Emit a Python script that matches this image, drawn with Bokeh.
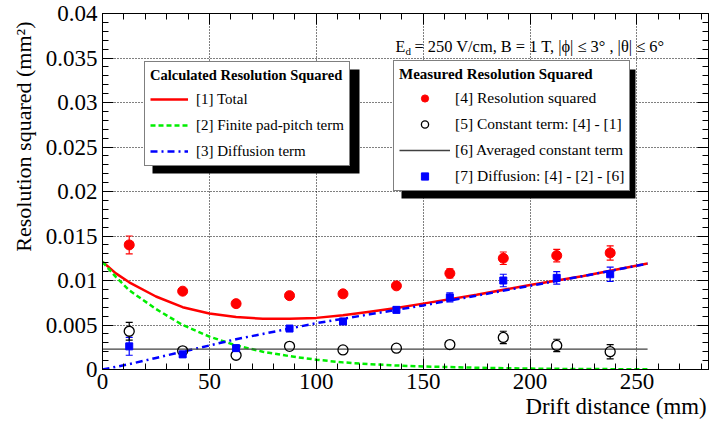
import numpy as np
from bokeh.plotting import figure
from bokeh.models import (Range1d, FixedTicker, LinearAxis, Legend, LegendItem, Label, Title,
                          BoxAnnotation, Whisker, TeeHead, ColumnDataSource, CustomJSTickFormatter)
from bokeh.embed import file_html
from bokeh.resources import INLINE

# ---------------- data ----------------
x_pts = [12.5, 37.5, 62.5, 87.5, 112.5, 137.5, 162.5, 187.5, 212.5, 237.5]
res_sq = [0.0140, 0.0088, 0.0074, 0.0083, 0.0085, 0.0094, 0.0108, 0.0125, 0.0128, 0.0131]
const_term = [0.0043, 0.0021, 0.0016, 0.0026, 0.0022, 0.0024, 0.0028, 0.0036, 0.0027, 0.0020]
diff_meas = [0.0026, 0.0017, 0.0024, 0.0046, 0.0054, 0.0067, 0.0081, 0.0100, 0.0103, 0.0107]
err = [0.0010, 0.0003, 0.0003, 0.0003, 0.0003, 0.0003, 0.0005, 0.0007, 0.0007, 0.0008]

avg_x = [0, 255]
avg_const = [0.0023, 0.0023]

curve_x = [0, 6.25, 12.5, 25, 37.5, 50, 62.5, 75, 87.5, 100, 112.5, 125, 137.5, 150, 175, 200, 225, 255]
total = [0.0121, 0.0108, 0.0098, 0.0082, 0.0070, 0.0063, 0.0059, 0.0057, 0.0057, 0.0058, 0.0061,
         0.0065, 0.0069, 0.0074, 0.0084, 0.0095, 0.0105, 0.0119]
pad_term = [0.0121, 0.0104, 0.0089, 0.0068, 0.0050, 0.0037, 0.0027, 0.0020, 0.0015, 0.0011, 0.0008,
            0.0006, 0.00045, 0.00034, 0.0002, 0.0001, 0.00005, 0.00003]
diffusion = [0.0, 0.0003, 0.0006, 0.0013, 0.0020, 0.0027, 0.0034, 0.0040, 0.0046, 0.0052, 0.0057,
             0.0062, 0.0067, 0.0072, 0.0083, 0.0094, 0.0105, 0.0119]

x_ticks = [0, 50, 100, 150, 200, 250]
x_minor = [10 * i for i in range(0, 29)]
y_ticks = [0.0, 0.005, 0.01, 0.015, 0.02, 0.025, 0.03, 0.035, 0.04]
y_tick_labels = ["0", "0.005", "0.01", "0.015", "0.02", "0.025", "0.03", "0.035", "0.04"]
y_minor = [0.001 * i for i in range(0, 41)]

# ---------------- layout ----------------
X0, X1 = 0.0, 283.5
Y0, Y1 = 0.0, 0.04
W, H = 709, 424
FL, FR, FT, FB = 102, 708, 13, 369   # frame edges in page pixels


def px2x(px):
    return X0 + (px - FL) * (X1 - X0) / (FR - FL)


def py2y(py):
    return Y0 + (FB - py) * (Y1 - Y0) / (FB - FT)


SERIF = "Liberation Serif"

p = figure(width=W, height=H, x_range=Range1d(X0, X1), y_range=Range1d(Y0, Y1),
           output_backend="svg", toolbar_location=None,
           min_border_left=FL, min_border_right=W - FR,
           min_border_top=FT, min_border_bottom=H - FB)
p.background_fill_color = "white"
p.border_fill_color = "white"
p.outline_line_color = "black"
p.outline_line_width = 1

xticker = FixedTicker(ticks=x_ticks, minor_ticks=x_minor)
yticker = FixedTicker(ticks=y_ticks, minor_ticks=y_minor)


def style_axis(ax, ticker, labels=True):
    ax.ticker = ticker
    ax.axis_line_color = "black"
    ax.major_tick_line_color = "black"
    ax.minor_tick_line_color = "black"
    ax.major_tick_in = 11
    ax.major_tick_out = 0
    ax.minor_tick_in = 6
    ax.minor_tick_out = 0
    if labels:
        ax.major_label_text_font = SERIF
        ax.major_label_text_font_size = "23px"
        ax.major_label_text_color = "black"
        ax.major_label_standoff = 4
    else:
        ax.formatter = CustomJSTickFormatter(code="return ''")
        ax.major_label_text_color = None
        ax.major_label_standoff = 0


style_axis(p.xaxis[0], xticker)
style_axis(p.yaxis[0], yticker)
p.yaxis[0].major_label_standoff = 5
p.yaxis[0].major_label_overrides = dict(zip(y_ticks, y_tick_labels))

top_ax = LinearAxis()
style_axis(top_ax, xticker, labels=False)
right_ax = LinearAxis()
style_axis(right_ax, yticker, labels=False)
p.add_layout(top_ax, "above")
p.add_layout(right_ax, "right")

# axis titles (ROOT style: at the end of the axis)
p.add_layout(Title(text="Drift distance (mm)", align="right", text_font=SERIF, text_font_size="22.8px",
                   text_font_style="normal", text_color="black", standoff=0, offset=2), "below")
p.add_layout(Title(text="Resolution squared (mm\u00b2)", align="right", text_font=SERIF,
                   text_font_size="22px", text_font_style="normal", text_color="black",
                   standoff=13, offset=8), "left")

for g, tk in ((p.xgrid[0], xticker), (p.ygrid[0], yticker)):
    g.ticker = tk
    g.grid_line_color = "black"
    g.grid_line_dash = "1 2"
    g.grid_line_width = 1

# ---------------- curves ----------------
r_total = p.line(curve_x, total, line_color="#ff0000", line_width=2.5)
r_pad = p.line(curve_x, pad_term, line_color="#00ee00", line_width=2.5, line_dash="5 3")
r_diff = p.line(curve_x, diffusion, line_color="#0000ff", line_width=2.5, line_dash="7 4 2 4")
r_avg = p.line(avg_x, avg_const, line_color="#404040", line_width=1.3)

# ---------------- error bars ----------------
r_open = 5 * (Y1 - Y0) / (FB - FT)   # open marker radius in data units


def whisk(xs, lo, hi, color, up=True, down=True):
    src = ColumnDataSource(dict(x=xs, lo=lo, hi=hi))
    w = Whisker(source=src, base="x", lower="lo", upper="hi", line_color=color, line_width=1.2,
                upper_head=TeeHead(size=7, line_color=color, line_width=1.2) if up else None,
                lower_head=TeeHead(size=7, line_color=color, line_width=1.2) if down else None)
    p.add_layout(w)


whisk(x_pts, [v - e for v, e in zip(res_sq, err)], [v + e for v, e in zip(res_sq, err)], "#ff0000")
whisk(x_pts, [v - e for v, e in zip(diff_meas, err)], [v + e for v, e in zip(diff_meas, err)], "#0000ff")
big = [i for i, e in enumerate(err) if e > r_open]
bx = [x_pts[i] for i in big]
whisk(bx, [const_term[i] + r_open for i in big], [const_term[i] + err[i] for i in big], "black", up=True, down=False)
whisk(bx, [const_term[i] - err[i] for i in big], [const_term[i] - r_open for i in big], "black", up=False, down=True)

# ---------------- markers ----------------
r_res = p.scatter(x_pts, res_sq, marker="circle", size=10, fill_color="#ff0000", line_color="#ff0000")
r_const = p.scatter(x_pts, const_term, marker="circle", size=10, fill_color=None,
                    line_color="black", line_width=1.3)
r_dm = p.scatter(x_pts, diff_meas, marker="square", size=7, fill_color="#0000ff", line_color="#0000ff")

# ---------------- legends with shadows ----------------
p.add_layout(BoxAnnotation(left=px2x(152), right=px2x(359), top=py2y(69), bottom=py2y(173),
                           fill_color="black", fill_alpha=1, line_color=None))
p.add_layout(BoxAnnotation(left=px2x(401), right=px2x(635), top=py2y(69), bottom=py2y(198),
                           fill_color="black", fill_alpha=1, line_color=None))


def make_legend(items, title, loc, gw, standoff, lsize, tsize):
    return Legend(items=items, title=title, location=loc, orientation="vertical",
                  border_line_color="black", border_line_width=1,
                  background_fill_color="white", background_fill_alpha=1,
                  padding=5, spacing=8, margin=0, glyph_width=gw, glyph_height=18,
                  label_height=18, label_standoff=standoff,
                  label_text_font=SERIF, label_text_font_size=lsize, label_text_color="black",
                  title_text_font=SERIF, title_text_font_size=tsize, title_text_color="black",
                  title_text_font_style="bold", title_standoff=6)


leg1 = make_legend([LegendItem(label="[1] Total", renderers=[r_total]),
                    LegendItem(label="[2] Finite pad-pitch term", renderers=[r_pad]),
                    LegendItem(label="[3] Diffusion term", renderers=[r_diff])],
                   "Calculated Resolution Squared", (144 - FL, FB - 166), 38, 8, "15px", "14.5px")
leg2 = make_legend([LegendItem(label="[4] Resolution squared", renderers=[r_res]),
                    LegendItem(label="[5] Constant term: [4] - [1]", renderers=[r_const]),
                    LegendItem(label="[6] Averaged constant term", renderers=[r_avg]),
                    LegendItem(label="[7] Diffusion: [4] - [2] - [6]", renderers=[r_dm])],
                   "Measured Resolution Squared", (393 - FL, FB - 191), 51, 5, "15.5px", "15px")
p.add_layout(leg1)
p.add_layout(leg2)

# ---------------- texts ----------------
p.add_layout(Label(x=px2x(395), y=py2y(46), text="E", text_font=SERIF, text_font_size="16px",
                   text_color="black", text_baseline="alphabetic"))
p.add_layout(Label(x=px2x(405), y=py2y(50), text="d", text_font=SERIF, text_font_size="11px",
                   text_color="black", text_baseline="alphabetic"))
p.add_layout(Label(x=px2x(414), y=py2y(46),
                   text=" = 250 V/cm, B = 1 T,  |\u03d5| \u2264 3\u00b0 , |\u03b8| \u2264 6\u00b0",
                   text_font=SERIF, text_font_size="16.4px", text_color="black", text_baseline="alphabetic"))

open("out.html", "w").write(file_html(p, INLINE))
